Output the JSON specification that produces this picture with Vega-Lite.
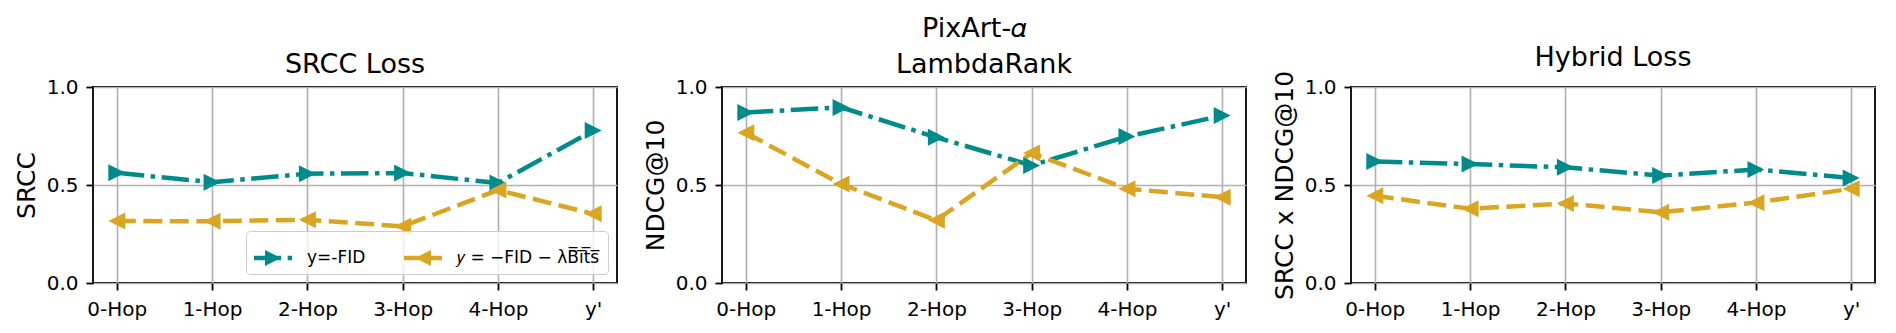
{
  "$schema": "https://vega.github.io/schema/vega-lite/v6.json",
  "padding": {"left": 13, "top": 14, "right": 0, "bottom": 0},
  "background": "white",
  "title": {"text": "PixArt-𝛼", "fontSize": 27, "fontWeight": "normal", "font": "DejaVu Sans", "anchor": "middle", "dx": 30, "offset": -20, "baseline": "alphabetic"},
  "data": {"values": [
    {"panel": "SRCC Loss", "series": "y=-FID", "hop": "0-Hop", "value": 0.562},
    {"panel": "SRCC Loss", "series": "y=-FID", "hop": "1-Hop", "value": 0.514},
    {"panel": "SRCC Loss", "series": "y=-FID", "hop": "2-Hop", "value": 0.558},
    {"panel": "SRCC Loss", "series": "y=-FID", "hop": "3-Hop", "value": 0.561},
    {"panel": "SRCC Loss", "series": "y=-FID", "hop": "4-Hop", "value": 0.510},
    {"panel": "SRCC Loss", "series": "y=-FID", "hop": "y'", "value": 0.778},
    {"panel": "SRCC Loss", "series": "𝑦 = −FID − λB̅i̅t̅s̅", "hop": "0-Hop", "value": 0.316},
    {"panel": "SRCC Loss", "series": "𝑦 = −FID − λB̅i̅t̅s̅", "hop": "1-Hop", "value": 0.315},
    {"panel": "SRCC Loss", "series": "𝑦 = −FID − λB̅i̅t̅s̅", "hop": "2-Hop", "value": 0.323},
    {"panel": "SRCC Loss", "series": "𝑦 = −FID − λB̅i̅t̅s̅", "hop": "3-Hop", "value": 0.289},
    {"panel": "SRCC Loss", "series": "𝑦 = −FID − λB̅i̅t̅s̅", "hop": "4-Hop", "value": 0.474},
    {"panel": "SRCC Loss", "series": "𝑦 = −FID − λB̅i̅t̅s̅", "hop": "y'", "value": 0.353},
    {"panel": "LambdaRank", "series": "y=-FID", "hop": "0-Hop", "value": 0.870},
    {"panel": "LambdaRank", "series": "y=-FID", "hop": "1-Hop", "value": 0.896},
    {"panel": "LambdaRank", "series": "y=-FID", "hop": "2-Hop", "value": 0.743},
    {"panel": "LambdaRank", "series": "y=-FID", "hop": "3-Hop", "value": 0.600},
    {"panel": "LambdaRank", "series": "y=-FID", "hop": "4-Hop", "value": 0.747},
    {"panel": "LambdaRank", "series": "y=-FID", "hop": "y'", "value": 0.854},
    {"panel": "LambdaRank", "series": "𝑦 = −FID − λB̅i̅t̅s̅", "hop": "0-Hop", "value": 0.766},
    {"panel": "LambdaRank", "series": "𝑦 = −FID − λB̅i̅t̅s̅", "hop": "1-Hop", "value": 0.505},
    {"panel": "LambdaRank", "series": "𝑦 = −FID − λB̅i̅t̅s̅", "hop": "2-Hop", "value": 0.320},
    {"panel": "LambdaRank", "series": "𝑦 = −FID − λB̅i̅t̅s̅", "hop": "3-Hop", "value": 0.663},
    {"panel": "LambdaRank", "series": "𝑦 = −FID − λB̅i̅t̅s̅", "hop": "4-Hop", "value": 0.481},
    {"panel": "LambdaRank", "series": "𝑦 = −FID − λB̅i̅t̅s̅", "hop": "y'", "value": 0.438},
    {"panel": "Hybrid Loss", "series": "y=-FID", "hop": "0-Hop", "value": 0.620},
    {"panel": "Hybrid Loss", "series": "y=-FID", "hop": "1-Hop", "value": 0.607},
    {"panel": "Hybrid Loss", "series": "y=-FID", "hop": "2-Hop", "value": 0.590},
    {"panel": "Hybrid Loss", "series": "y=-FID", "hop": "3-Hop", "value": 0.548},
    {"panel": "Hybrid Loss", "series": "y=-FID", "hop": "4-Hop", "value": 0.579},
    {"panel": "Hybrid Loss", "series": "y=-FID", "hop": "y'", "value": 0.536},
    {"panel": "Hybrid Loss", "series": "𝑦 = −FID − λB̅i̅t̅s̅", "hop": "0-Hop", "value": 0.445},
    {"panel": "Hybrid Loss", "series": "𝑦 = −FID − λB̅i̅t̅s̅", "hop": "1-Hop", "value": 0.379},
    {"panel": "Hybrid Loss", "series": "𝑦 = −FID − λB̅i̅t̅s̅", "hop": "2-Hop", "value": 0.406},
    {"panel": "Hybrid Loss", "series": "𝑦 = −FID − λB̅i̅t̅s̅", "hop": "3-Hop", "value": 0.361},
    {"panel": "Hybrid Loss", "series": "𝑦 = −FID − λB̅i̅t̅s̅", "hop": "4-Hop", "value": 0.410},
    {"panel": "Hybrid Loss", "series": "𝑦 = −FID − λB̅i̅t̅s̅", "hop": "y'", "value": 0.481}
  ]},
  "spacing": 105,
  "bounds": "flush",
  "resolve": {"scale": {"color": "independent", "strokeDash": "independent"}},
  "hconcat": [
    {
      "width": 524, "height": 196,
      "title": {"text": "SRCC Loss"},
      "transform": [{"filter": "datum.panel === 'SRCC Loss'"}],
      "layer": [
        {
          "mark": {"type": "line", "strokeWidth": 4.5, "strokeCap": "butt"},
          "encoding": {
            "x": {"field": "hop", "type": "ordinal", "scale": {"type": "point", "padding": 0.25, "domain": ["0-Hop", "1-Hop", "2-Hop", "3-Hop", "4-Hop", "y'"]}, "axis": {"labelAngle": 0, "title": null}},
            "y": {"field": "value", "type": "quantitative", "scale": {"domain": [0, 1], "nice": false, "zero": false}, "axis": {"values": [0, 0.5, 1], "format": ".1f", "title": "SRCC", "labelFlush": false, "encode": {"grid": {"update": {"opacity": {"signal": "datum.value === 0.5 ? 1 : 0"}}}}}},
            "color": {"field": "series", "type": "nominal", "scale": {"domain": ["y=-FID", "𝑦 = −FID − λB̅i̅t̅s̅"], "range": ["#008B8B", "#DAA520"]},
              "legend": {"orient": "bottom-right", "offset": 9, "direction": "horizontal", "columns": 2, "title": null,
                "labelFont": "DejaVu Sans", "labelFontSize": 17, "labelColor": "black", "symbolSize": 400, "symbolStrokeWidth": 0, "symbolOffset": 0,
                "labelOffset": 15, "columnPadding": 38, "padding": 8, "fillColor": "rgba(255,255,255,0.8)", "strokeColor": "#cccccc", "cornerRadius": 4,
                "encode": {"symbols": {"update": {
                  "shape": {"signal": "datum.index === 0 ? 'M-1,-0.118H0.43V0.118H-1Z M0.77,-0.118H1V0.118H0.77Z M-0.42,-0.42L0.42,0L-0.42,0.42Z' : 'M-1,-0.118H0V0.118H-1Z M0.39,-0.118H1V0.118H0.39Z M0.42,-0.42L0.42,0.42L-0.42,0Z'"},
                  "fill": {"signal": "datum.index === 0 ? '#008B8B' : '#DAA520'"},
                  "stroke": {"value": "transparent"},
                  "strokeWidth": {"value": 0},
                  "size": {"value": 1444},
                  "opacity": {"value": 1}
                }}}}},
            "strokeDash": {"field": "series", "type": "nominal", "scale": {"domain": ["y=-FID", "𝑦 = −FID − λB̅i̅t̅s̅"], "range": [[27.5, 6.5, 4.5, 6.5], [19, 7.5]]}}
          }
        },
        {
          "transform": [{"filter": "datum.series === 'y=-FID'"}],
          "mark": {"type": "point", "filled": true, "size": 289, "opacity": 1, "shape": "M1,0L-1,-1L-1,1Z", "color": "#008B8B"},
          "encoding": {"x": {"field": "hop", "type": "ordinal"}, "y": {"field": "value", "type": "quantitative"}}
        },
        {
          "transform": [{"filter": "datum.series !== 'y=-FID'"}],
          "mark": {"type": "point", "filled": true, "size": 289, "opacity": 1, "shape": "M-1,0L1,-1L1,1Z", "color": "#DAA520"},
          "encoding": {"x": {"field": "hop", "type": "ordinal"}, "y": {"field": "value", "type": "quantitative"}}
        }
      ]
    },
    {
      "width": 524, "height": 196,
      "title": {"text": "LambdaRank"},
      "transform": [{"filter": "datum.panel === 'LambdaRank'"}],
      "layer": [
        {
          "mark": {"type": "line", "strokeWidth": 4.5, "strokeCap": "butt"},
          "encoding": {
            "x": {"field": "hop", "type": "ordinal", "scale": {"type": "point", "padding": 0.25, "domain": ["0-Hop", "1-Hop", "2-Hop", "3-Hop", "4-Hop", "y'"]}, "axis": {"labelAngle": 0, "title": null}},
            "y": {"field": "value", "type": "quantitative", "scale": {"domain": [0, 1], "nice": false, "zero": false}, "axis": {"values": [0, 0.5, 1], "format": ".1f", "title": "NDCG@10", "labelFlush": false, "encode": {"grid": {"update": {"opacity": {"signal": "datum.value === 0.5 ? 1 : 0"}}}}}},
            "color": {"field": "series", "type": "nominal", "scale": {"domain": ["y=-FID", "𝑦 = −FID − λB̅i̅t̅s̅"], "range": ["#008B8B", "#DAA520"]}, "legend": null},
            "strokeDash": {"field": "series", "type": "nominal", "scale": {"domain": ["y=-FID", "𝑦 = −FID − λB̅i̅t̅s̅"], "range": [[27.5, 6.5, 4.5, 6.5], [19, 7.5]]}, "legend": null}
          }
        },
        {
          "transform": [{"filter": "datum.series === 'y=-FID'"}],
          "mark": {"type": "point", "filled": true, "size": 289, "opacity": 1, "shape": "M1,0L-1,-1L-1,1Z", "color": "#008B8B"},
          "encoding": {"x": {"field": "hop", "type": "ordinal"}, "y": {"field": "value", "type": "quantitative"}}
        },
        {
          "transform": [{"filter": "datum.series !== 'y=-FID'"}],
          "mark": {"type": "point", "filled": true, "size": 289, "opacity": 1, "shape": "M-1,0L1,-1L1,1Z", "color": "#DAA520"},
          "encoding": {"x": {"field": "hop", "type": "ordinal"}, "y": {"field": "value", "type": "quantitative"}}
        }
      ]
    },
    {
      "width": 524, "height": 196,
      "title": {"text": "Hybrid Loss"},
      "transform": [{"filter": "datum.panel === 'Hybrid Loss'"}],
      "layer": [
        {
          "mark": {"type": "line", "strokeWidth": 4.5, "strokeCap": "butt"},
          "encoding": {
            "x": {"field": "hop", "type": "ordinal", "scale": {"type": "point", "padding": 0.25, "domain": ["0-Hop", "1-Hop", "2-Hop", "3-Hop", "4-Hop", "y'"]}, "axis": {"labelAngle": 0, "title": null}},
            "y": {"field": "value", "type": "quantitative", "scale": {"domain": [0, 1], "nice": false, "zero": false}, "axis": {"values": [0, 0.5, 1], "format": ".1f", "title": "SRCC x NDCG@10", "labelFlush": false, "encode": {"grid": {"update": {"opacity": {"signal": "datum.value === 0.5 ? 1 : 0"}}}}}},
            "color": {"field": "series", "type": "nominal", "scale": {"domain": ["y=-FID", "𝑦 = −FID − λB̅i̅t̅s̅"], "range": ["#008B8B", "#DAA520"]}, "legend": null},
            "strokeDash": {"field": "series", "type": "nominal", "scale": {"domain": ["y=-FID", "𝑦 = −FID − λB̅i̅t̅s̅"], "range": [[27.5, 6.5, 4.5, 6.5], [19, 7.5]]}, "legend": null}
          }
        },
        {
          "transform": [{"filter": "datum.series === 'y=-FID'"}],
          "mark": {"type": "point", "filled": true, "size": 289, "opacity": 1, "shape": "M1,0L-1,-1L-1,1Z", "color": "#008B8B"},
          "encoding": {"x": {"field": "hop", "type": "ordinal"}, "y": {"field": "value", "type": "quantitative"}}
        },
        {
          "transform": [{"filter": "datum.series !== 'y=-FID'"}],
          "mark": {"type": "point", "filled": true, "size": 289, "opacity": 1, "shape": "M-1,0L1,-1L1,1Z", "color": "#DAA520"},
          "encoding": {"x": {"field": "hop", "type": "ordinal"}, "y": {"field": "value", "type": "quantitative"}}
        }
      ]
    }
  ],
  "config": {
    "font": "DejaVu Sans",
    "view": {"stroke": "black", "strokeWidth": 1.8},
    "title": {"font": "DejaVu Sans", "fontSize": 27, "fontWeight": "normal", "color": "black", "offset": -2, "baseline": "alphabetic"},
    "axis": {"labelFont": "DejaVu Sans", "titleFont": "DejaVu Sans", "labelFontSize": 20, "titleFontSize": 25, "titleFontWeight": "normal",
      "labelColor": "black", "titleColor": "black", "tickColor": "black", "tickSize": 7, "tickWidth": 1.8, "domain": false,
      "grid": true, "gridColor": "#b0b0b0", "gridWidth": 1.6, "labelPadding": 8, "labelOverlap": false},
    "axisY": {"titlePadding": 7},
    "axisX": {"labelPadding": 9}
  }
}
